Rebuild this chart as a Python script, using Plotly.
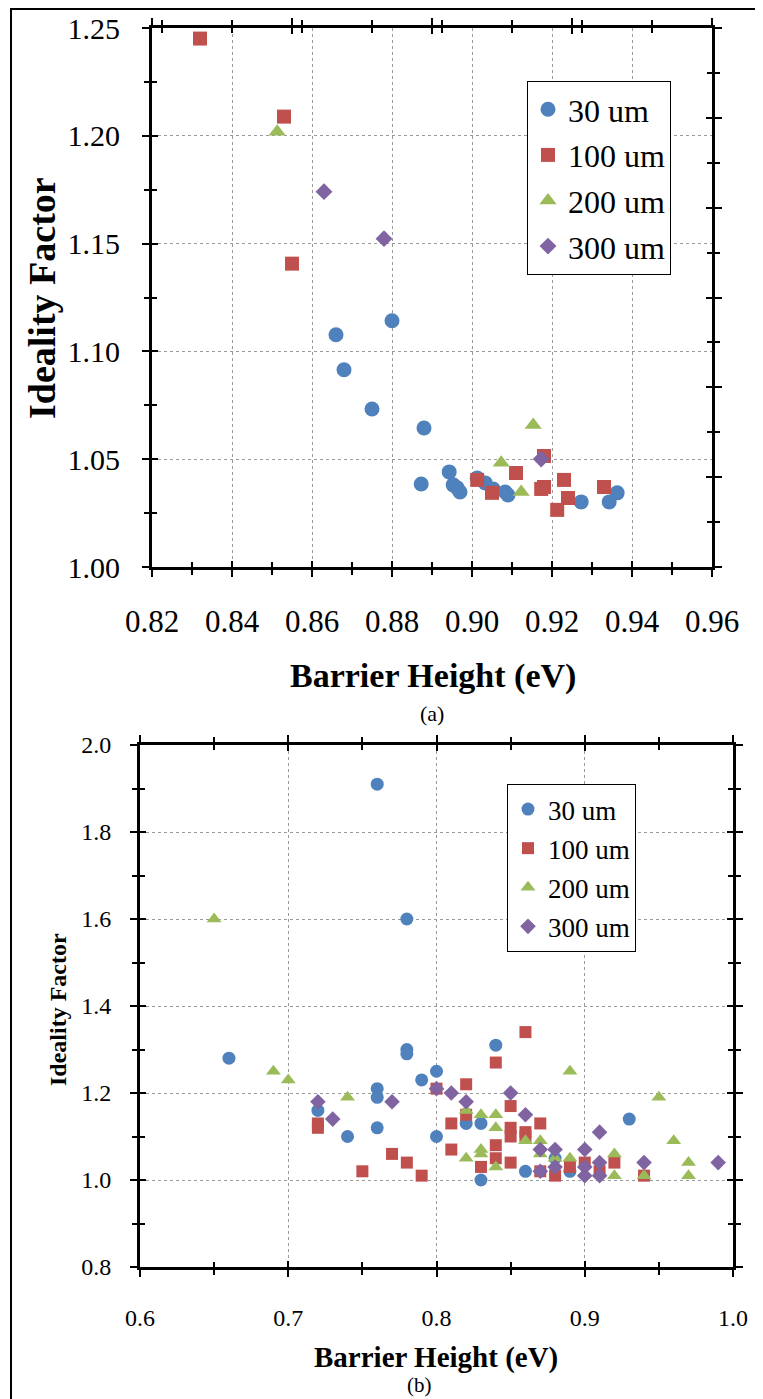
import plotly.graph_objects as go

# ---------------- data: panel (a) ----------------
a_30_x = [0.866, 0.868, 0.875, 0.880, 0.888, 0.8873, 0.8943, 0.8953, 0.8963, 0.897,
          0.9013, 0.9033, 0.9053, 0.9083, 0.909, 0.9273, 0.9363, 0.9343]
a_30_y = [1.1077, 1.0915, 1.0733, 1.1142, 1.0645, 1.0385, 1.0441, 1.0381, 1.0367, 1.0348,
          1.0413, 1.039, 1.0362, 1.0348, 1.0334, 1.0302, 1.0344, 1.0302]
a_100_x = [0.832, 0.853, 0.855, 0.9013, 0.905, 0.911, 0.918, 0.918, 0.9173, 0.923, 0.924, 0.9213, 0.933]
a_100_y = [1.2451, 1.2089, 1.1407, 1.0404, 1.0344, 1.0436, 1.0515, 1.0371, 1.0362, 1.0404, 1.032, 1.0265, 1.0371]
a_200_x = [0.8513, 0.9073, 0.9123, 0.9153]
a_200_y = [1.2019, 1.0483, 1.0348, 1.0659]
a_300_x = [0.863, 0.878, 0.9173]
a_300_y = [1.1741, 1.1523, 1.0501]

# ---------------- data: panel (b) ----------------
b_30_x = [0.76, 0.78, 0.66, 0.72, 0.74, 0.76, 0.76, 0.76, 0.78, 0.78, 0.79, 0.80, 0.80,
          0.84, 0.82, 0.83, 0.83, 0.86, 0.88, 0.89, 0.93]
b_30_y = [1.91, 1.60, 1.28, 1.16, 1.10, 1.21, 1.19, 1.12, 1.30, 1.29, 1.23, 1.25, 1.10,
          1.31, 1.13, 1.13, 1.00, 1.02, 1.05, 1.02, 1.14]
b_100_x = [0.72, 0.72, 0.75, 0.77, 0.78, 0.79, 0.80, 0.81, 0.81, 0.82, 0.82, 0.86, 0.84,
           0.85, 0.85, 0.85, 0.86, 0.87, 0.84, 0.84, 0.83, 0.85, 0.87, 0.88, 0.89, 0.90,
           0.91, 0.92, 0.94, 0.86]
b_100_y = [1.13, 1.12, 1.02, 1.06, 1.04, 1.01, 1.21, 1.13, 1.07, 1.22, 1.15, 1.34, 1.27,
           1.17, 1.12, 1.10, 1.11, 1.13, 1.08, 1.05, 1.03, 1.04, 1.02, 1.01, 1.03, 1.04,
           1.02, 1.04, 1.01, 1.10]
b_200_x = [0.65, 0.69, 0.70, 0.74, 0.82, 0.82, 0.83, 0.84, 0.84, 0.89, 0.95, 0.86, 0.87,
           0.83, 0.83, 0.84, 0.87, 0.88, 0.89, 0.92, 0.92, 0.94, 0.96, 0.97, 0.97]
b_200_y = [1.60, 1.25, 1.23, 1.19, 1.16, 1.05, 1.15, 1.15, 1.12, 1.25, 1.19, 1.09, 1.09,
           1.07, 1.06, 1.03, 1.06, 1.05, 1.05, 1.06, 1.01, 1.01, 1.09, 1.04, 1.01]
b_300_x = [0.72, 0.73, 0.77, 0.80, 0.81, 0.82, 0.85, 0.86, 0.91, 0.87, 0.88, 0.90, 0.87,
           0.88, 0.90, 0.90, 0.91, 0.91, 0.94, 0.99]
b_300_y = [1.18, 1.14, 1.18, 1.21, 1.20, 1.18, 1.20, 1.15, 1.11, 1.07, 1.07, 1.07, 1.02,
           1.03, 1.03, 1.01, 1.01, 1.04, 1.04, 1.04]

series_names = ["30 um", "100 um", "200 um", "300 um"]
colors = ["#4F81BD", "#C0504D", "#9BBB59", "#8064A2"]
symbols = ["circle", "square", "triangle-up", "diamond"]

a_x = [a_30_x, a_100_x, a_200_x, a_300_x]
a_y = [a_30_y, a_100_y, a_200_y, a_300_y]
b_x = [b_30_x, b_100_x, b_200_x, b_300_x]
b_y = [b_30_y, b_100_y, b_200_y, b_300_y]

FONT = "Liberation Serif, Times New Roman, serif"
W, H = 763, 1399
OFF = 8  # page body margin


def px(x):
    return (x - OFF) / W


def py(y):
    return 1 - (y - OFF) / H


def tf(size):
    return dict(family=FONT, size=size, color="black")


fig = go.Figure()

a_sizes = [15, 14, 15, 13]
b_sizes = [13, 12, 13, 12]
for i in range(4):
    fig.add_trace(go.Scatter(
        x=a_x[i], y=a_y[i], mode="markers", name=series_names[i],
        xaxis="x", yaxis="y", legend="legend", legendgroup="a%d" % i,
        marker=dict(color=colors[i], symbol=symbols[i], size=a_sizes[i], line=dict(width=0))))
for i in range(4):
    fig.add_trace(go.Scatter(
        x=b_x[i], y=b_y[i], mode="markers", name=series_names[i],
        xaxis="x2", yaxis="y2", legend="legend2", legendgroup="b%d" % i,
        marker=dict(color=colors[i], symbol=symbols[i], size=b_sizes[i], line=dict(width=0))))

# empty traces so that the extra tick-only axes (top/right, and inner halves of ticks) are drawn
for xa, ya in [("x3", "y3"), ("x5", "y5"), ("x7", "y7"), ("x4", "y4"), ("x6", "y6"), ("x8", "y8")]:
    fig.add_trace(go.Scatter(x=[], y=[], xaxis=xa, yaxis=ya, showlegend=False, hoverinfo="skip"))

grid = dict(showgrid=True, gridcolor="#9a9a9a", griddash="dot", gridwidth=1)
base_line = dict(showline=True, linecolor="black", linewidth=3, zeroline=False, automargin=False,
                 ticks="outside", tickcolor="black", tickwidth=2, ticklen=7)

A_XD = [px(152), px(712)]
A_YD = [py(567), py(28)]
B_XD = [px(140), px(733)]
B_YD = [py(1267), py(745)]


def minor(dt, where="outside", ln=5):
    return dict(dtick=dt, ticks=where, ticklen=ln, tickwidth=2, tickcolor="black", showgrid=False)


def tick_axis(over, side, anchor, rng, t0, dt, mdt, where):
    # tick-only axis overlaying a main axis
    return dict(overlaying=over, side=side, anchor=anchor, range=rng, tick0=t0, dtick=dt,
                showticklabels=False, showgrid=False, zeroline=False, automargin=False,
                showline=(where == "outside"), linecolor="black", linewidth=3,
                ticks=where, ticklen=7 if where == "outside" else 6, tickwidth=2, tickcolor="black",
                minor=minor(mdt, where, 5))


A_XR, A_YR = [0.82, 0.96], [1.0, 1.25]
B_XR, B_YR = [0.6, 1.0], [0.8, 2.0]

fig.update_layout(
    width=W, height=H,
    margin=dict(l=0, r=0, t=0, b=0, autoexpand=False),
    paper_bgcolor="white", plot_bgcolor="white",
    font=dict(family=FONT, color="black"),
    # panel (a)
    xaxis=dict(domain=A_XD, anchor="y", range=A_XR, tick0=0.82, dtick=0.02,
               tickformat=".2f", tickfont=tf(31), ticklabelstandoff=18,
               minor=minor(0.01), **grid, **base_line),
    yaxis=dict(domain=A_YD, anchor="x", range=A_YR, tick0=1.0, dtick=0.05,
               tickformat=".2f", tickfont=tf(30), ticklabelstandoff=16,
               minor=minor(0.025), **grid, **base_line),
    xaxis3=tick_axis("x", "top", "y", A_XR, 0.82, 0.035, 0.0175, "outside"),
    yaxis3=tick_axis("y", "right", "x", A_YR, 1.0, 0.25 / 6, 0.25 / 12, "outside"),
    xaxis5=tick_axis("x", "bottom", "y", A_XR, 0.82, 0.02, 0.01, "inside"),
    yaxis5=tick_axis("y", "left", "x", A_YR, 1.0, 0.05, 0.025, "inside"),
    xaxis7=tick_axis("x", "top", "y", A_XR, 0.82, 0.035, 0.0175, "inside"),
    yaxis7=tick_axis("y", "right", "x", A_YR, 1.0, 0.25 / 6, 0.25 / 12, "inside"),
    # panel (b)
    xaxis2=dict(domain=B_XD, anchor="y2", range=B_XR, tick0=0.6, dtick=0.1,
                tickformat=".1f", tickfont=tf(24), ticklabelstandoff=20,
                minor=minor(0.05), **grid, **base_line),
    yaxis2=dict(domain=B_YD, anchor="x2", range=B_YR, tick0=0.8, dtick=0.2,
                tickformat=".1f", tickfont=tf(24), ticklabelstandoff=14,
                minor=minor(0.1), **grid, **base_line),
    xaxis4=tick_axis("x2", "top", "y2", B_XR, 0.6, 0.1, 0.05, "outside"),
    yaxis4=tick_axis("y2", "right", "x2", B_YR, 0.8, 0.2, 0.1, "outside"),
    xaxis6=tick_axis("x2", "bottom", "y2", B_XR, 0.6, 0.1, 0.05, "inside"),
    yaxis6=tick_axis("y2", "left", "x2", B_YR, 0.8, 0.2, 0.1, "inside"),
    xaxis8=tick_axis("x2", "top", "y2", B_XR, 0.6, 0.1, 0.05, "inside"),
    yaxis8=tick_axis("y2", "right", "x2", B_YR, 0.8, 0.2, 0.1, "inside"),
    legend=dict(x=px(527), y=py(81), xanchor="left", yanchor="top",
                bordercolor="black", borderwidth=1, bgcolor="white",
                font=tf(32), tracegroupgap=1),
    legend2=dict(x=px(507), y=py(784), xanchor="left", yanchor="top",
                 bordercolor="black", borderwidth=1, bgcolor="white",
                 font=tf(27), tracegroupgap=1),
    showlegend=True,
)

ann = [
    dict(text="<b>Ideality Factor</b>", x=px(42), y=py(298), textangle=-90, size=38),
    dict(text="<b>Barrier Height (eV)</b>", x=px(433), y=py(676), textangle=0, size=34),
    dict(text="(a)", x=px(432), y=py(713), textangle=0, size=22),
    dict(text="<b>Ideality Factor</b>", x=px(58), y=py(1010), textangle=-90, size=24),
    dict(text="<b>Barrier Height (eV)</b>", x=px(436), y=py(1357), textangle=0, size=29),
    dict(text="(b)", x=px(420), y=py(1385), textangle=0, size=21),
]
for a in ann:
    fig.add_annotation(text=a["text"], x=a["x"], y=a["y"], xref="paper", yref="paper",
                       xanchor="center", yanchor="middle", showarrow=False,
                       textangle=a["textangle"], font=tf(a["size"]))

# outer frame of the figure
fig.add_shape(type="rect", xref="paper", yref="paper",
              x0=px(11), x1=1.05, y0=-0.05, y1=1 - 1 / H,
              line=dict(color="black", width=2), fillcolor="rgba(0,0,0,0)", layer="below")

fig.write_html("out.html")
